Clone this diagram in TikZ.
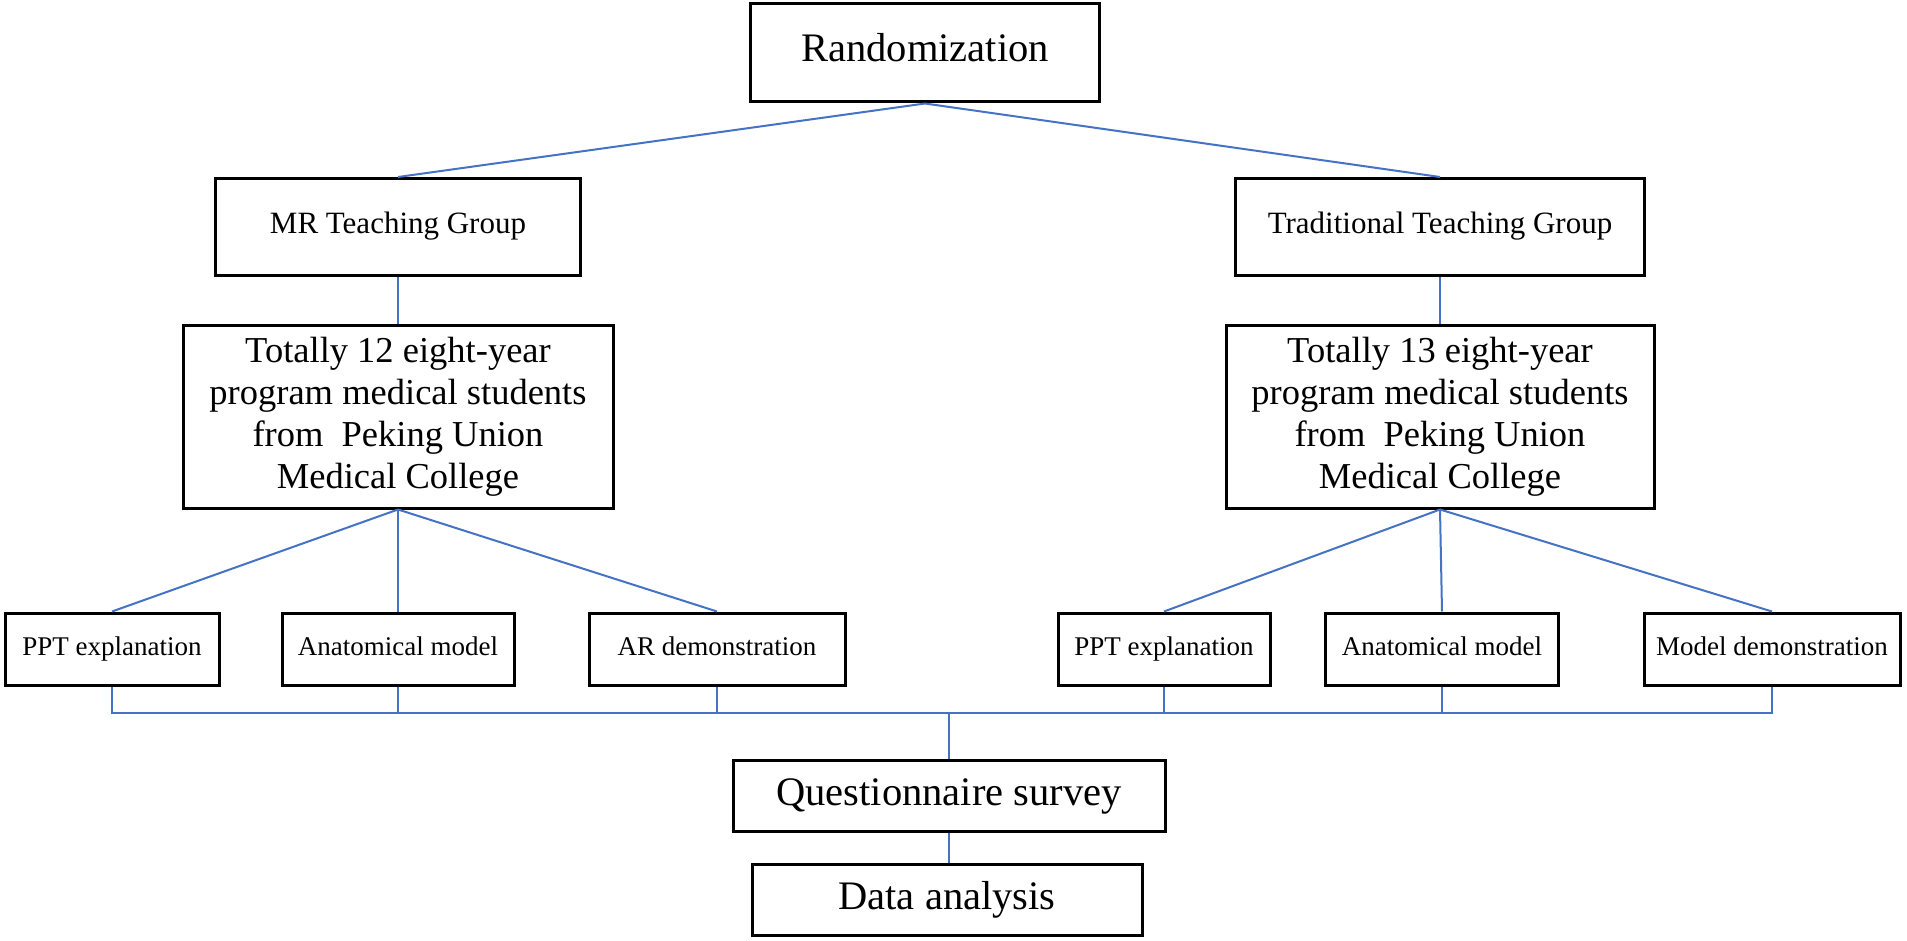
\documentclass[tikz,border=0pt]{standalone}
\usepackage{fontspec}
\setmainfont{Liberation Serif}
\definecolor{linkblue}{RGB}{68,114,196}
\begin{document}
\begin{tikzpicture}[
    x=1pt,y=-1pt,
    box/.style={draw,line width=3pt,inner sep=0pt,align=center},
    bigtext/.style={text height=27pt,text depth=9pt,font=\fontsize{40.5}{44}\selectfont},
    grouptext/.style={text height=21pt,text depth=7pt,font=\fontsize{31}{36}\selectfont},
    studtext/.style={font=\fontsize{36.5}{42}\selectfont},
    smalltext/.style={text height=18pt,text depth=6pt,font=\fontsize{27}{31}\selectfont},
    link/.style={draw=linkblue,line width=2pt},
]
\useasboundingbox (0,0) rectangle (1907,941);

% top
\node[box,bigtext,minimum width=349,minimum height=98] (rand) at (925,53) {Randomization};

% groups
\node[box,grouptext,minimum width=365,minimum height=97] (mr) at (398,227) {MR Teaching Group};
\node[box,grouptext,minimum width=409,minimum height=97] (trad) at (1440,227) {Traditional Teaching Group};

\node[box,studtext,minimum width=430,minimum height=182] (stuA) at (398,417) {Totally 12 eight-year\\program medical students\\from\ \ Peking Union\\Medical College};
\node[box,studtext,minimum width=428,minimum height=182] (stuB) at (1440,417) {Totally 13 eight-year\\program medical students\\from\ \ Peking Union\\Medical College};

% teaching methods
\node[box,smalltext,minimum width=214,minimum height=72] (pptA) at (112,649) {PPT explanation};
\node[box,smalltext,minimum width=232,minimum height=72] (anaA) at (398,649) {Anatomical model};
\node[box,smalltext,minimum width=256,minimum height=72] (arA) at (717,649) {AR demonstration};
\node[box,smalltext,minimum width=212,minimum height=72] (pptB) at (1164,649) {PPT explanation};
\node[box,smalltext,minimum width=233,minimum height=72] (anaB) at (1442,649) {Anatomical model};
\node[box,smalltext,minimum width=256,minimum height=72] (modB) at (1772,649) {Model demonstration};

% bottom
\node[box,bigtext,minimum width=432,minimum height=71] (quest) at (949,796) {Questionnaire survey};
\node[box,bigtext,minimum width=390,minimum height=71] (data) at (947,900) {Data analysis};

\coordinate (bus) at (949,713);

% connectors
\draw[link] (rand.south) -- (mr.north);
\draw[link] (rand.south) -- (trad.north);
\draw[link] (mr.south) -- (stuA.north);
\draw[link] (trad.south) -- (stuB.north);
\draw[link] (stuA.south) -- (pptA.north);
\draw[link] (stuA.south) -- (anaA.north);
\draw[link] (stuA.south) -- (arA.north);
\draw[link] (stuB.south) -- (pptB.north);
\draw[link] (stuB.south) -- (anaB.north);
\draw[link] (stuB.south) -- (modB.north);
\draw[link] (pptA.south) |- (bus) -| (modB.south);
\draw[link] (anaA.south) -- (anaA.south |- bus);
\draw[link] (arA.south) -- (arA.south |- bus);
\draw[link] (pptB.south) -- (pptB.south |- bus);
\draw[link] (anaB.south) -- (anaB.south |- bus);
\draw[link] (bus) -- (quest.north);
\draw[link] (quest.south) -- (quest.south |- data.north);
\end{tikzpicture}
\end{document}
